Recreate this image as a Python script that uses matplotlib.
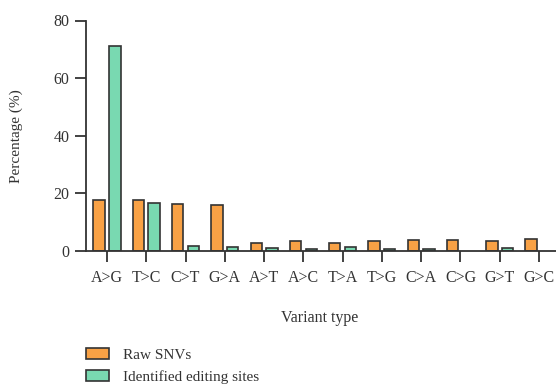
import numpy as np
import matplotlib
matplotlib.use("Agg")
import matplotlib.pyplot as plt

# Variant categories and percentages
variant_types = ['A>G', 'T>C', 'C>T', 'G>A', 'A>T', 'A>C', 'T>A', 'T>G', 'C>A', 'C>G', 'G>T', 'G>C']
raw_snvs = [17.8, 17.8, 16.3, 16.1, 2.8, 3.3, 2.7, 3.3, 3.7, 3.7, 3.5, 4.0]
editing_sites = [71.0, 16.6, 1.9, 1.5, 0.9, 0.7, 1.4, 0.6, 0.6, 0.0, 1.2, 0.0]
y_ticks = [0, 20, 40, 60, 80]

ORANGE = '#f8a145'
GREEN = '#79d9b1'
DARK = '#333333'

plt.rcParams['font.family'] = ['Liberation Serif', 'DejaVu Serif']
plt.rcParams['text.color'] = DARK

fig = plt.figure(figsize=(5.56, 3.85), dpi=100)
# axes run from x=86px to just past the right edge, y from 20.5px to 251px
ax = fig.add_axes([86/556, 1-251/385, (560-86)/556, (251-20.5)/385])

x = np.arange(len(variant_types))
width = 0.29
off = 0.2
ax.bar(x - off, raw_snvs, width, color=ORANGE, edgecolor=DARK, linewidth=1.2, label='Raw SNVs')
# only draw green bars where there is a value
mask = np.array(editing_sites) > 0
ax.bar(x[mask] + off, np.array(editing_sites)[mask], width, color=GREEN, edgecolor=DARK,
       linewidth=1.2, label='Identified editing sites')

ax.set_xlim(-0.535, len(variant_types) - 0.465)
ax.set_ylim(0, 80)
ax.set_yticks(y_ticks)
ax.set_xticks(x)
ax.set_xticklabels(variant_types)

for s in ['top', 'right']:
    ax.spines[s].set_visible(False)
for s in ['left', 'bottom']:
    ax.spines[s].set_color(DARK)
    ax.spines[s].set_linewidth(1.3)

ax.tick_params(axis='y', direction='out', length=8, width=1.3, color=DARK,
               labelsize=11.5, labelcolor=DARK, pad=4)
ax.tick_params(axis='x', direction='out', length=8, width=1.3, color=DARK,
               labelsize=11.5, labelcolor=DARK, pad=6)

ax.set_ylabel('Percentage (%)', fontsize=11, color=DARK, labelpad=22)
fig.text(320/556, 1-318/385, 'Variant type', fontsize=11.5, ha='center', va='center')

handles, labels = ax.get_legend_handles_labels()
leg = fig.legend(handles, labels, loc='upper left', bbox_to_anchor=(80/556, 1-342/385),
                 frameon=False, fontsize=11, handlelength=1.5, handleheight=0.7,
                 handletextpad=0.9, labelspacing=0.55, borderaxespad=0)

fig.savefig('out.png', dpi=100)
